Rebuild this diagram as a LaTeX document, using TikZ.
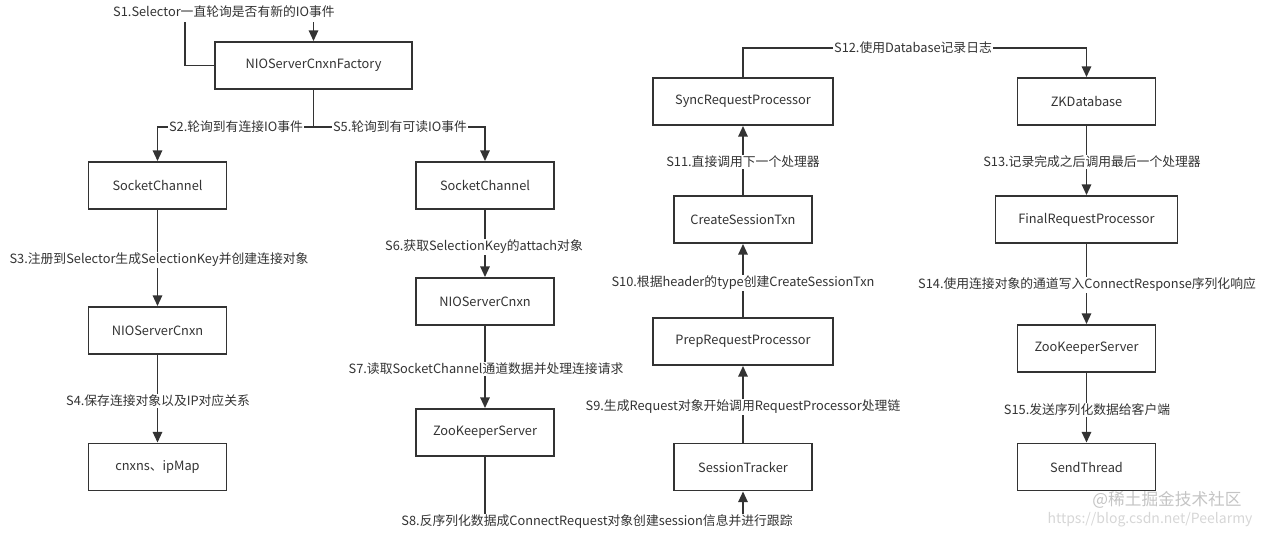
\documentclass[tikz,border=0pt]{standalone}
\usepackage{fontspec}
\setmainfont{Noto Sans CJK SC}
\usetikzlibrary{arrows.meta}
\definecolor{ink}{HTML}{333333}
\definecolor{wm}{HTML}{C4C4C4}
\tikzset{
  box/.style={draw=ink, line width=1.4pt, fill=white, inner sep=0pt,
    minimum height=35.25pt, minimum width=103.5pt, text=ink, font=\fontsize{9.6}{11}\selectfont},
  widebox/.style={box, minimum width=135pt},
  conn/.style={draw=ink, line width=1.4pt},
  arr/.style={conn, -{Triangle[length=8pt,width=7pt]}},
  lbl/.style={fill=white, inner sep=1pt, text=ink, font=\fontsize{9.6}{11}\selectfont},
}
\begin{document}
\begin{tikzpicture}[x=0.75pt,y=-0.75pt]
\useasboundingbox (0,0) rectangle (1266,532);
% boxes
\node[box, minimum width=147.75pt] (factory) at (313.5,65.5) {NIOServerCnxnFactory};
\node[box] (sc1) at (157.5,185.5) {SocketChannel};
\node[box] (nc1) at (157.5,330.5) {NIOServerCnxn};
\node[box] (map) at (157.5,467) {cnxns、ipMap};
\node[box] (sc2) at (485,185.5) {SocketChannel};
\node[box] (nc2) at (485,301.5) {NIOServerCnxn};
\node[box] (zk2) at (485,432.5) {ZooKeeperServer};
\node[widebox] (sync) at (743,101.5) {SyncRequestProcessor};
\node[box] (cst) at (743,219.5) {CreateSessionTxn};
\node[widebox] (prep) at (743,341.5) {PrepRequestProcessor};
\node[box] (st) at (743,467) {SessionTracker};
\node[box] (zkdb) at (1086.5,101.5) {ZKDatabase};
\node[box, minimum width=136.5pt] (final) at (1086.5,219.5) {FinalRequestProcessor};
\node[box] (zk3) at (1086.5,348.5) {ZooKeeperServer};
\node[box] (send) at (1086.5,467) {SendThread};
% coordinates
\coordinate (s1a) at (185,22);
\coordinate (j1) at (313.5,127);
\coordinate (c8) at (614,522);
\coordinate (c12) at (913,48);
% connectors
\draw[conn] (factory.west) -| (s1a);
\draw[arr] (factory.north |- s1a) -- (factory.north);
\draw[conn] (factory.south) -- (j1);
\draw[arr] (j1) -| (sc1.north);
\draw[arr] (j1) -| (sc2.north);
\draw[arr] (sc1) -- (nc1);
\draw[arr] (nc1) -- (map);
\draw[arr] (sc2) -- (nc2);
\draw[arr] (nc2) -- (zk2);
\draw[arr] (zk2.south) |- (c8) -| (st.south);
\draw[arr] (st) -- (prep);
\draw[arr] (prep) -- (cst);
\draw[arr] (cst) -- (sync);
\draw[arr] (sync.north) |- (c12) -| (zkdb.north);
\draw[arr] (zkdb) -- (final);
\draw[arr] (final) -- (zk3);
\draw[arr] (zk3) -- (send);
% labels
\node[lbl] (s1) at (224,12) {S1.Selector一直轮询是否有新的IO事件};
\node[lbl] (s2) at (236,127) {S2.轮询到有连接IO事件};
\node[lbl] (s5) at (400,127) {S5.轮询到有可读IO事件};
\node[lbl] (s3) at (159,260) {S3.注册到Selector生成SelectionKey并创建连接对象};
\node[lbl] (s4) at (158,401) {S4.保存连接对象以及IP对应关系};
\node[lbl] (s6) at (484,247) {S6.获取SelectionKey的attach对象};
\node[lbl] (s7) at (486,369) {S7.读取SocketChannel通道数据并处理连接请求};
\node[lbl] (s8) at (597,522) {S8.反序列化数据成ConnectRequest对象创建session信息并进行跟踪};
\node[lbl] (s9) at (743,407) {S9.生成Request对象开始调用RequestProcessor处理链};
\node[lbl] (s10) at (743,283) {S10.根据header的type创建CreateSessionTxn};
\node[lbl] (s11) at (743,162) {S11.直接调用下一个处理器};
\node[lbl] (s12) at (913,48) {S12.使用Database记录日志};
\node[lbl] (s13) at (1092,162) {S13.记录完成之后调用最后一个处理器};
\node[lbl] (s14) at (1087,285) {S14.使用连接对象的通道写入ConnectResponse序列化响应};
\node[lbl] (s15) at (1087,410) {S15.发送序列化数据给客户端};
% watermark
\node[text=wm!70, font=\fontsize{10.5}{12}\selectfont, inner sep=0pt] (url) at (1150,520) {https://blog.csdn.net/Peelarmy};
\node[text=wm, font=\fontsize{12.5}{14}\selectfont, inner sep=0pt] (wmk) at (1167,500) {@稀土掘金技术社区};
\end{tikzpicture}
\end{document}
